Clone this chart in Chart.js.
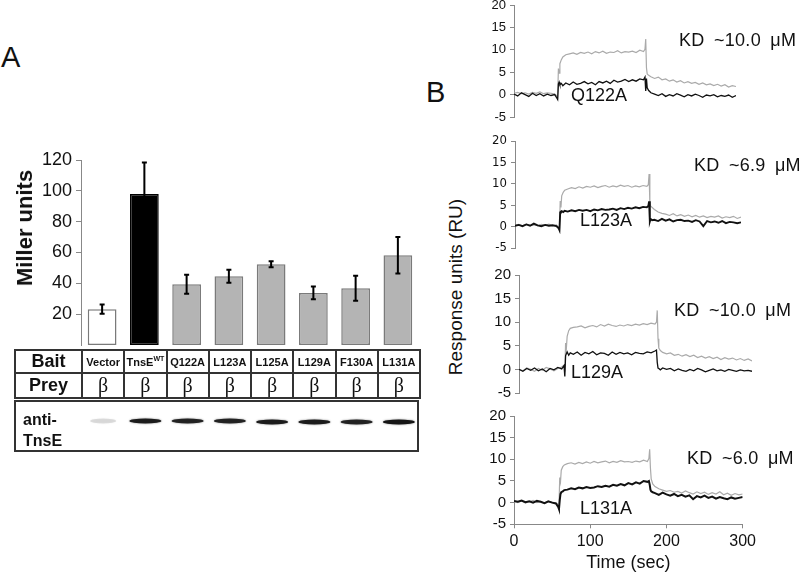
<!DOCTYPE html>
<html>
<head>
<meta charset="utf-8">
<script src="https://cdn.jsdelivr.net/npm/chart.js@4.4.1/dist/chart.umd.min.js"></script>
<style>
body { margin: 0; background: #fff; }
#page { position: relative; width: 800px; height: 575px; overflow: hidden; font-family: "Liberation Sans", Arial, sans-serif; color: #111; }
canvas { position: absolute; }
.lbl { position: absolute; line-height: 1; white-space: nowrap; }
.kd { font-size: 18px; word-spacing: 4px; letter-spacing: 0.3px; }
.mut { font-size: 18px; }
.rot { position: absolute; line-height: 1; white-space: nowrap; transform: translate(-50%, -50%) rotate(-90deg); }
#tbl { position: absolute; left: 14px; top: 349px; width: 405px; border-collapse: collapse; table-layout: fixed; }
#tbl td { border: 2px solid #333; height: 21px; padding: 0; text-align: center; overflow: hidden; white-space: nowrap; }
#tbl td.head { font-weight: bold; font-size: 18px; }
#tbl td.bait { font-weight: bold; font-size: 11px; }
#tbl td.beta { font-family: "Liberation Serif", "DejaVu Serif", serif; font-size: 20px; }
#tbl sup { font-size: 7px; vertical-align: 5px; }
#blot { position: absolute; left: 14px; top: 400px; width: 401px; height: 48px; border: 2px solid #333; }
#blot div { position: absolute; left: 7px; top: 7px; font-weight: bold; font-size: 16px; line-height: 21px; }
</style>
</head>
<body>
<div id="page">
  <canvas id="barChart" width="420" height="320" style="left:0;top:140px"></canvas>
  <canvas id="spr1" width="278" height="142" style="left:470px;top:-10px"></canvas>
  <canvas id="spr2" width="282" height="137" style="left:471px;top:126px"></canvas>
  <canvas id="spr3" width="289" height="148" style="left:475px;top:260px"></canvas>
  <canvas id="spr4" width="290" height="174" style="left:470px;top:401px"></canvas>

  <div class="lbl" style="left:1px;top:43px;font-size:29px">A</div>
  <div class="lbl" style="left:426px;top:78px;font-size:29px">B</div>
  <div class="rot" style="left:25px;top:228px;font-size:22px;font-weight:bold">Miller units</div>
  <div class="rot" style="left:455px;top:287px;font-size:19px">Response units (RU)</div>

  <div class="lbl kd" style="left:679px;top:31px">KD ~10.0 μM</div>
  <div class="lbl kd" style="left:694px;top:156px">KD ~6.9 μM</div>
  <div class="lbl kd" style="left:674px;top:301px">KD ~10.0 μM</div>
  <div class="lbl kd" style="left:687px;top:449px">KD ~6.0 μM</div>

  <div class="lbl mut" style="left:571px;top:86px">Q122A</div>
  <div class="lbl mut" style="left:580px;top:211px">L123A</div>
  <div class="lbl mut" style="left:571px;top:363px">L129A</div>
  <div class="lbl mut" style="left:580px;top:499px">L131A</div>

  <table id="tbl">
    <colgroup><col style="width:67px"><col span="8" style="width:42.25px"></colgroup>
    <tr id="baitRow"><td class="head">Bait</td></tr>
    <tr id="preyRow"><td class="head">Prey</td></tr>
  </table>
  <div id="blot"><div>anti-<br>TnsE</div></div>
</div>

<script>
Chart.defaults.font.family = '"Liberation Sans", Arial, sans-serif';
Chart.defaults.color = '#111';

// Panel A - two hybrid assay
const baitLabels = ['Vector', 'TnsE', 'Q122A', 'L123A', 'L125A', 'L129A', 'F130A', 'L131A'];
const millerUnits = [23.2, 97.9, 39.4, 44.6, 52.4, 33.8, 36.8, 58.2];
const millerError = [3.0, 20.5, 6.2, 4.2, 1.9, 4.2, 8.1, 11.8];
const barColors = ['#ffffff', '#000000', '#b4b4b4', '#b4b4b4', '#b4b4b4', '#b4b4b4', '#b4b4b4', '#b4b4b4'];
const barBorders = ['#7a7a7a', '#000000', '#7a7a7a', '#7a7a7a', '#7a7a7a', '#7a7a7a', '#7a7a7a', '#7a7a7a'];
const millerTicks = [20, 40, 60, 80, 100, 120];
// western blot band strength per lane
const blotIntensity = [0.12, 0.95, 0.9, 0.9, 0.95, 0.95, 0.9, 1];

// Panel B - SPR sensorgrams (time in sec, response in RU)
const times = [0, 5, 10, 15, 20, 25, 30, 35, 40, 45, 50, 55,
  58, 59, 60, 61, 62, 64, 66,
  70, 75, 80, 85, 90, 95, 100, 105, 110, 115, 120, 125, 130, 135, 140, 145, 150, 155, 160, 165, 170, 175,
  177, 178, 179, 180, 182,
  185, 190, 195, 200, 205, 210, 215, 220, 225, 230, 235, 240, 245, 250, 255, 260, 265, 270, 275, 280, 285, 290, 295, 300];
const sprTicks = [-5, 0, 5, 10, 15, 20];
const timeTicks = [0, 100, 200, 300];

const q122aGray = [0.3, 0.5, 0.2, 0.4, 0.1, 0.5, 0.3, 0.6, 0.2, 0.4, 0.3, 0.1,
  -0.3, -0.6, 5.8, 4.8, 6.9, 7.8, 8.4,
  8.9, 9.1, 9.3, 9.0, 9.4, 9.2, 9.5, 9.1, 9.6, 9.3, 9.7, 9.2, 9.5, 9.4, 9.8, 9.3, 9.6, 9.5, 9.7, 9.4, 9.9, 9.6,
  10.1, 12.4, 6.0, 4.6, 4.3,
  4.0, 3.6, 3.9, 3.3, 3.5, 3.0, 3.3, 2.8, 3.1, 2.6, 2.9, 2.5, 2.7, 2.3, 2.6, 2.2, 2.4, 2.0, 2.3, 1.9, 2.2, 1.7, 2.0, 1.8];
const q122aBlack = [0.1, -0.3, 0.4, 0.0, -0.4, 0.3, -0.2, 0.2, -0.3, 0.1, -0.2, 0.0,
  -0.8, -1.1, 2.4, 2.8, 2.2, 2.5, 2.0,
  2.6, 2.2, 2.8, 2.3, 2.5, 2.9, 2.4, 2.7, 2.2, 2.9, 2.6, 3.0, 2.5, 3.2, 2.8, 3.0, 3.4, 2.9, 3.3, 3.0, 3.5, 3.3,
  3.9, 0.8, 3.6, 1.5, 0.9,
  0.4, 0.1, -0.2, 0.2, -0.4, 0.0, -0.3, 0.2, -0.1, -0.5, 0.0, -0.3, 0.1, -0.2, -0.6, -0.1, -0.3, 0.0, -0.5, -0.2, -0.4, -0.1, -0.6, -0.2];

const l123aGray = [0.3, 0.5, 0.2, 0.6, 0.3, 0.4, 0.2, 0.5, 0.3, 0.6, 0.2, 0.4,
  -0.2, -0.8, 6.0, 4.5, 7.2, 8.0, 8.5,
  8.8, 9.1, 8.9, 9.3, 9.0, 9.4, 9.2, 9.5, 9.1, 9.4, 9.6, 9.2, 9.5, 9.3, 9.7, 9.4, 9.6, 9.2, 9.5, 9.3, 9.6, 9.4,
  9.8, 12.3, 5.5, 4.8, 4.5,
  4.0, 3.4, 3.1, 2.9, 2.6, 3.0, 2.5, 2.8, 2.4, 2.7, 2.3, 2.6, 2.2, 2.5, 2.1, 2.4, 2.2, 2.5, 2.0, 2.3, 2.1, 2.4, 1.9, 2.2];
const l123aBlack = [0.2, 0.4, 0.1, 0.5, 0.2, 0.7, 0.3, 0.1, 0.4, 0.2, 0.3, 0.1,
  -0.4, -0.8, 3.3, 3.5, 3.6, 3.4, 3.7,
  3.5, 3.8, 3.6, 3.9, 3.7, 3.9, 3.6, 4.0, 3.8, 4.1, 3.9, 4.0, 4.2, 3.9, 4.3, 4.1, 4.4, 4.2, 4.5, 4.3, 4.6, 4.5,
  4.8, 5.9, 1.2, 1.8, 1.5,
  1.6, 1.3, 1.8, 1.4, 1.7, 1.2, 1.5, 1.6, 1.3, 1.4, 1.1, 1.5, 1.2, 0.1, 1.3, 1.0, 1.2, 0.9, 1.3, 0.8, 1.1, 1.0, 0.8, 1.0];

const l129aGray = [0.0, -0.3, 0.3, 0.0, -0.4, 0.2, -0.2, 0.4, 0.1, -0.3, 0.2, 0.5,
  0.9, -0.5, 5.6, 4.5, 7.0, 8.2, 8.7,
  8.9, 9.0, 9.2, 8.8, 9.1, 9.3, 9.0, 9.5, 9.2, 9.6, 9.3, 9.1, 9.4, 9.2, 9.5, 9.3, 9.6, 9.4, 9.7, 9.5, 9.8, 9.6,
  10.0, 12.5, 6.5, 4.5, 4.0,
  3.6, 3.3, 3.5, 3.0, 3.2, 2.8, 3.1, 2.7, 3.0, 2.5, 2.8, 2.4, 2.7, 2.3, 2.6, 2.1, 2.5, 2.2, 2.4, 2.0, 2.3, 1.9, 2.2, 1.8];
const l129aBlack = [0.0, -0.4, 0.2, -0.2, 0.3, -0.3, 0.1, -0.5, 0.2, -0.1, 0.4, 0.1,
  0.8, -1.5, 2.9, 3.3, 3.7, 3.0, 3.5,
  3.2, 3.7, 3.0, 3.6, 3.3, 3.8, 3.1, 3.5, 3.4, 3.0, 3.7, 3.2, 3.6, 3.3, 3.5, 3.1, 3.6, 3.4, 3.3, 3.7, 3.5, 3.9,
  4.1, 1.5, 0.3, 0.2, -0.1,
  0.3, 0.0, 0.2, -0.3, 0.1, -0.2, -0.4, 0.0, -0.3, 0.2, -0.1, -0.5, -0.2, 0.1, -0.3, -0.1, -0.4, 0.0, -0.2, -0.4, -0.1, -0.3, -0.2, -0.4];

const l131aGray = [0.3, 0.0, 0.4, -0.1, 0.2, 0.5, 0.0, 0.3, -0.2, 0.2, 0.1, -0.1,
  -0.4, -1.0, 5.8, 4.8, 7.5, 8.3, 8.7,
  9.0, 9.2, 8.9, 9.3, 9.0, 9.4, 9.1, 9.5, 9.2, 9.4, 9.6, 9.2, 9.5, 9.3, 9.7, 9.4, 9.5, 9.3, 9.6, 9.4, 9.8, 9.5,
  10.2, 12.3, 8.0, 5.5, 4.3,
  3.7, 3.2, 2.9, 2.6, 2.8, 2.4, 2.6, 2.2, 2.7, 2.3, 2.0, 2.5, 2.1, 2.4, 1.9, 2.3, 2.0, 2.5, 1.8, 2.2, 1.7, 2.1, 1.8, 2.0];
const l131aBlack = [0.4, 0.2, 0.5, 0.1, 0.3, 0.0, 0.4, 0.2, -0.1, 0.3, 0.0, -0.2,
  -1.0, -1.5, 0.5, 2.0, 2.4, 2.6, 2.9,
  3.0, 3.3, 3.1, 3.5, 3.3, 3.6, 3.4, 3.5, 3.8, 3.6, 3.9, 3.7, 4.1, 3.9, 4.3, 4.0, 4.5, 4.2, 4.7, 4.4, 5.0, 4.8,
  5.0, 4.2, 3.0, 2.6, 2.4,
  2.2, 1.8, 2.3, 1.9, 1.6, 2.0, 1.5, 1.8, 1.4, 1.7, 0.8, 1.5, 1.2, 1.6, 1.1, 1.4, 0.9, 1.3, 1.0, 0.8, 1.2, 0.9, 1.1, 1.3];

// Bait / Prey table cells
const baitRow = document.getElementById('baitRow');
const preyRow = document.getElementById('preyRow');
baitLabels.forEach(function(name, i) {
    const td = document.createElement('td');
    td.className = 'bait';
    td.innerHTML = i === 1 ? 'TnsE<sup>WT</sup>' : name;
    baitRow.appendChild(td);
    const td2 = document.createElement('td');
    td2.className = 'beta';
    td2.textContent = 'β';
    preyRow.appendChild(td2);
});

// error bars on top of the bars
const errorBars = {
    id: 'errorBars',
    afterDatasetsDraw(chart) {
        const ctx = chart.ctx;
        const y = chart.scales.y;
        chart.getDatasetMeta(0).data.forEach(function(bar, i) {
            const top = y.getPixelForValue(millerUnits[i] + millerError[i]);
            const bot = y.getPixelForValue(millerUnits[i] - millerError[i]);
            ctx.save();
            ctx.strokeStyle = '#000';
            ctx.lineWidth = 2;
            ctx.beginPath();
            ctx.moveTo(bar.x, top); ctx.lineTo(bar.x, bot);
            ctx.moveTo(bar.x - 2.5, top); ctx.lineTo(bar.x + 2.5, top);
            ctx.moveTo(bar.x - 2.5, bot); ctx.lineTo(bar.x + 2.5, bot);
            ctx.stroke();
            ctx.restore();
        });
    }
};

// western blot bands under the table, one per lane
const blotBands = {
    id: 'blotBands',
    afterDraw(chart) {
        const ctx = chart.ctx;
        const x = chart.scales.x;
        const bandY = 281;
        blotIntensity.forEach(function(v, i) {
            const cx = x.getPixelForValue(i) + 1;
            const w = i === 0 ? 26 : 32;
            ctx.save();
            ctx.globalAlpha = v;
            ctx.fillStyle = '#151515';
            ctx.shadowColor = 'rgba(0,0,0,0.5)';
            ctx.shadowBlur = 2;
            ctx.beginPath();
            ctx.ellipse(cx, bandY + (i > 3 ? 1 : 0), w / 2, 2.4, 0, 0, Math.PI * 2);
            ctx.fill();
            ctx.restore();
        });
    }
};

new Chart(document.getElementById('barChart'), {
    type: 'bar',
    data: {
        labels: baitLabels,
        datasets: [{
            data: millerUnits,
            backgroundColor: barColors,
            borderColor: barBorders,
            borderWidth: 1.5,
            borderSkipped: false,
            categoryPercentage: 1,
            barPercentage: 0.68
        }]
    },
    options: {
        responsive: false,
        animation: false,
        layout: { padding: { top: 20, bottom: 115, left: 0, right: 1 } },
        plugins: { legend: { display: false }, tooltip: { enabled: false } },
        scales: {
            x: { display: false },
            y: {
                min: 0, max: 120,
                afterFit: function(s) { s.width = 81; },
                afterBuildTicks: function(s) { s.ticks = millerTicks.map(v => ({ value: v })); },
                ticks: { font: { size: 18 }, color: '#111', padding: 4 },
                grid: { drawOnChartArea: false, tickLength: 5, color: '#888' },
                border: { color: '#888', width: 1 }
            }
        }
    },
    plugins: [errorBars, blotBands]
});

function sprChart(id, gray, black, cfg) {
    const xAxis = {
        type: 'linear', min: 0, max: 300,
        display: cfg.showX,
        afterBuildTicks: function(s) { s.ticks = timeTicks.map(v => ({ value: v })); },
        ticks: { font: { size: 16 }, color: '#111', padding: 4, autoSkip: false },
        grid: { drawOnChartArea: false, tickLength: 4, color: '#888' },
        border: { color: '#888' },
        title: { display: cfg.showX, text: 'Time (sec)', font: { size: 18 }, color: '#111', padding: { top: 0, bottom: 1 } }
    };
    if (cfg.showX) {
        xAxis.afterFit = function(s) { s.height = 50.7; };
    }
    return new Chart(document.getElementById(id), {
        type: 'line',
        data: {
            datasets: [
                { data: black.map((v, i) => ({ x: times[i], y: v })), borderColor: '#111', borderWidth: cfg.blackWidth, pointRadius: 0 },
                { data: gray.map((v, i) => ({ x: times[i], y: v })), borderColor: '#aaaaaa', borderWidth: 1.2, pointRadius: 0 }
            ]
        },
        options: {
            responsive: false,
            animation: false,
            layout: { padding: { top: 15, bottom: cfg.showX ? 0 : 15, left: 0, right: 12 } },
            plugins: { legend: { display: false }, tooltip: { enabled: false } },
            scales: {
                x: xAxis,
                y: {
                    min: -5, max: 20,
                    afterFit: function(s) { s.width = 44; },
                    afterBuildTicks: function(s) { s.ticks = sprTicks.map(v => ({ value: v })); },
                    ticks: { font: cfg.tickFont, color: '#111', padding: 4, autoSkip: false },
                    grid: { drawOnChartArea: false, tickLength: 4, color: '#888' },
                    border: { color: '#888' }
                }
            }
        }
    });
}

sprChart('spr1', q122aGray, q122aBlack, { blackWidth: 1.3, showX: false, tickFont: { size: 13 } });
sprChart('spr2', l123aGray, l123aBlack, { blackWidth: 1.9, showX: false, tickFont: { size: 13, family: '"Liberation Sans Narrow", "DejaVu Sans Condensed", Arial, sans-serif' } });
sprChart('spr3', l129aGray, l129aBlack, { blackWidth: 1.3, showX: false, tickFont: { size: 15 } });
sprChart('spr4', l131aGray, l131aBlack, { blackWidth: 2.0, showX: true, tickFont: { size: 15 } });
</script>
</body>
</html>
